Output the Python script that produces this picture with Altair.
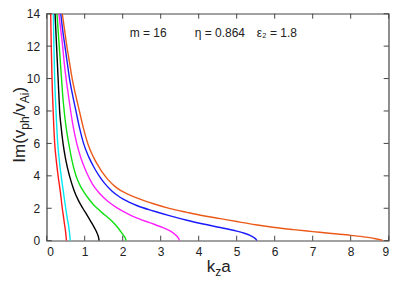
import altair as alt
import pandas as pd

# ---- data ----
series_names = ["red", "cyan", "black", "green", "magenta", "blue", "orange"]
series_colors = ["#ff1a1a", "#00e8f0", "#000000", "#10e010", "#ff20ff", "#1a1aff", "#ec5a1a"]

red_k = [0.105, 0.12, 0.14, 0.17, 0.21, 0.25, 0.30, 0.36, 0.41, 0.44, 0.47, 0.50, 0.52]
red_im = [14, 12, 10, 8, 6, 5, 4, 3, 2, 1.5, 1, 0.5, 0]

cyan_k = [0.175, 0.19, 0.21, 0.245, 0.29, 0.33, 0.38, 0.44, 0.50, 0.54, 0.57, 0.60, 0.62]
cyan_im = [14, 12, 10, 8, 6, 5, 4, 3, 2, 1.4, 1, 0.5, 0]

black_k = [0.22, 0.24, 0.26, 0.28, 0.30, 0.32, 0.34, 0.38, 0.43, 0.50, 0.60, 0.72, 0.83, 0.95,
           1.07, 1.17, 1.25, 1.31, 1.35, 1.37, 1.38]
black_im = [14, 13, 12, 11, 10, 9, 8, 7, 6, 5, 4, 3.1, 2.5, 2.0,
            1.55, 1.15, 0.82, 0.55, 0.32, 0.15, 0]

green_k = [0.27, 0.30, 0.33, 0.36, 0.39, 0.42, 0.46, 0.51, 0.58, 0.66, 0.77, 0.88, 0.98, 1.10,
           1.22, 1.34, 1.47, 1.60, 1.72, 1.82, 1.90, 1.97, 2.03, 2.07, 2.09]
green_im = [14, 13, 12, 11, 10, 9, 8, 7, 6, 5, 4, 3.4, 3.0, 2.6,
            2.25, 1.98, 1.7, 1.45, 1.2, 0.95, 0.72, 0.5, 0.3, 0.15, 0]

magenta_k = [0.32, 0.37, 0.42, 0.46, 0.51, 0.57, 0.63, 0.70, 0.79, 0.90, 1.05, 1.20, 1.40, 1.60,
             1.80, 2.00, 2.20, 2.40, 2.60, 2.81, 3.00, 3.15, 3.27, 3.37, 3.44, 3.48, 3.49]
magenta_im = [14, 13, 12, 11, 10, 9, 8, 7, 6, 5.1, 4.2, 3.5, 2.9, 2.45,
              2.1, 1.82, 1.58, 1.38, 1.2, 1.03, 0.86, 0.72, 0.57, 0.4, 0.24, 0.1, 0]

blue_k = [0.37, 0.42, 0.48, 0.54, 0.60, 0.68, 0.77, 0.86, 0.97, 1.10, 1.25, 1.38, 1.52, 1.70,
          1.93, 2.15, 2.37, 2.81, 3.25, 3.69, 4.12, 4.57, 5.00, 5.20, 5.35, 5.45, 5.51, 5.53]
blue_im = [14, 13, 12, 11, 10, 9, 8, 7, 6, 5.2, 4.5, 4.0, 3.55, 3.1,
           2.68, 2.4, 2.17, 1.83, 1.53, 1.26, 1.03, 0.81, 0.59, 0.46, 0.33, 0.2, 0.08, 0]

orange_k = [0.41, 0.47, 0.53, 0.60, 0.67, 0.76, 0.86, 0.96, 1.08, 1.22, 1.40, 1.50, 1.62, 1.78,
            1.93, 2.15, 2.37, 2.81, 3.25, 3.69, 4.12, 4.57, 5.0, 5.5, 6.0, 6.5, 7.0, 7.5, 8.0,
            8.4, 8.65, 8.8, 8.85]
orange_im = [14, 13, 12, 11, 10, 9, 8, 7, 6, 5.2, 4.45, 4.1, 3.75, 3.38,
             3.12, 2.86, 2.64, 2.28, 1.98, 1.75, 1.54, 1.36, 1.18, 0.98, 0.81, 0.68, 0.56, 0.44, 0.33,
             0.22, 0.12, 0.04, 0]

x_ticks = [0, 1, 2, 3, 4, 5, 6, 7, 8, 9]
y_ticks = [0, 2, 4, 6, 8, 10, 12, 14]

annotations = ["m = 16", "η = 0.864", "ε₂ = 1.8"]

# ---- build table ----
all_k = [red_k, cyan_k, black_k, green_k, magenta_k, blue_k, orange_k]
all_im = [red_im, cyan_im, black_im, green_im, magenta_im, blue_im, orange_im]
rows = []
for name, ks, ims in zip(series_names, all_k, all_im):
    for i, (k, v) in enumerate(zip(ks, ims)):
        rows.append({"series": name, "kza": k, "im": v, "order": i})
df = pd.DataFrame(rows)

W, H = 342, 227
FONT = "Liberation Sans"
TXT = "#222222"
AX = "#444444"

xs = alt.Scale(domain=[0, 9], nice=False, zero=False)
ys = alt.Scale(domain=[0, 14], nice=False, zero=False)


def x_axis():
    return alt.Axis(values=x_ticks, title=None, ticks=False, domain=False, grid=False,
                    labelFontSize=12, labelPadding=6, labelColor=TXT, labelFont=FONT)


def y_axis():
    return alt.Axis(values=y_ticks, title=None, ticks=False, domain=False, grid=False,
                    labelFontSize=12, labelPadding=7, labelColor=TXT, labelFont=FONT)


lines = alt.Chart(df).mark_line(strokeWidth=1.4, interpolate="monotone", clip=True).encode(
    x=alt.X("kza:Q", scale=xs, title=None, axis=x_axis()),
    y=alt.Y("im:Q", scale=ys, title=None, axis=y_axis()),
    color=alt.Color("series:N", scale=alt.Scale(domain=series_names, range=series_colors), legend=None),
    order=alt.Order("order:Q"),
)

xt = pd.DataFrame({"kza": x_ticks})
yt = pd.DataFrame({"im": y_ticks})
tick_len = 5
bt = alt.Chart(xt).mark_rule(color=AX, strokeWidth=1).encode(
    x=alt.X("kza:Q", scale=xs, title=None, axis=x_axis()), y=alt.value(H), y2=alt.value(H - tick_len))
tt = alt.Chart(xt).mark_rule(color=AX, strokeWidth=1).encode(
    x=alt.X("kza:Q", scale=xs, title=None, axis=x_axis()), y=alt.value(0), y2=alt.value(tick_len))
lt = alt.Chart(yt).mark_rule(color=AX, strokeWidth=1).encode(
    y=alt.Y("im:Q", scale=ys, title=None, axis=y_axis()), x=alt.value(0), x2=alt.value(tick_len))
rt = alt.Chart(yt).mark_rule(color=AX, strokeWidth=1).encode(
    y=alt.Y("im:Q", scale=ys, title=None, axis=y_axis()), x=alt.value(W), x2=alt.value(W - tick_len))


def label(text, x, y, size, angle=0):
    kw = dict(text=text, font=FONT, fontSize=size, color=TXT, align="left", baseline="alphabetic")
    if angle:
        kw["angle"] = angle
    return alt.Chart(pd.DataFrame({"a": [0]})).mark_text(**kw).encode(x=alt.value(x), y=alt.value(y))


# annotation
ann = [label(annotations[0], 83, 23, 12), label(annotations[1], 148, 23, 12), label(annotations[2], 210, 23, 12)]

# x title k_z a
xtitle = [label("k", 160, 258, 17), label("z", 168.5, 262, 12), label("a", 174.5, 258, 17)]

# y title Im(v_ph/v_Ai) rotated
bx = -22
sx = bx + 4.5
ytitle = [
    label("Im(v", bx, 149, 17, 270),
    label("ph", sx, 149 - 33.0, 12, 270),
    label("/v", bx, 149 - 33.0 - 13.3, 17, 270),
    label("Ai", sx, 149 - 33.0 - 13.3 - 13.2, 12, 270),
    label(")", bx, 149 - 33.0 - 13.3 - 13.2 - 10.7, 17, 270),
]

chart = alt.layer(lines, bt, tt, lt, rt, *ann, *xtitle, *ytitle).properties(
    width=W, height=H,
    autosize=alt.AutoSizeParams(type="none"),
    padding={"left": 38.7, "top": 5.7, "right": 12, "bottom": 44},
    background="white",
).configure_view(stroke=AX, strokeWidth=1.2)

chart.save("out.html", embed_options={"renderer": "svg", "actions": False})
